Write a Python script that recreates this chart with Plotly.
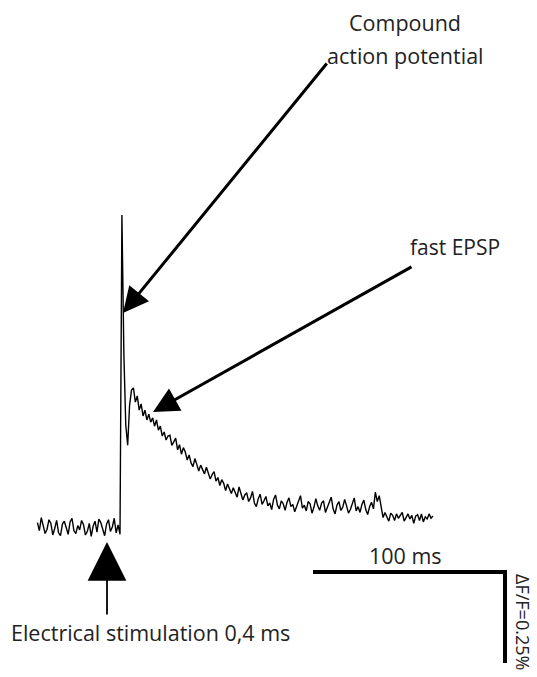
import plotly.graph_objects as go

# Fluorescence trace (ΔF/F, %) sampled every 1 ms, starting at t = -43 ms (stimulus at t = 0)
t_start_ms = -43
dff_percent = [
    0.012, -0.010, 0.026, 0.004, -0.018, -0.006, 0.020, 0.010, -0.022, -0.004,
    0.018, -0.016, -0.024, 0.008, 0.016, -0.002, -0.020, 0.014, 0.024, -0.010,
    -0.018, 0.004, -0.008, 0.018, 0.006, -0.022, -0.012, 0.010, -0.026, 0.002,
    0.016, -0.014, 0.022, 0.012, -0.004, -0.024, 0.008, 0.020, -0.012, 0.000,
    0.024, -0.016, 0.006,
    -0.020, 0.857, 0.480, 0.280, 0.225, 0.335, 0.376, 0.382, 0.343, 0.360,
    0.321, 0.338, 0.305, 0.321, 0.294, 0.310, 0.288, 0.300, 0.277, 0.294,
    0.266, 0.277, 0.250, 0.261, 0.239, 0.250,
    0.252, 0.224, 0.236, 0.244, 0.212, 0.226, 0.200, 0.218, 0.206, 0.184,
    0.198, 0.176, 0.166, 0.188, 0.172, 0.154, 0.170, 0.160, 0.146, 0.164,
    0.150, 0.132, 0.144, 0.152, 0.126, 0.136, 0.114, 0.130, 0.120, 0.100,
    0.118, 0.104, 0.092, 0.108, 0.096, 0.082, 0.110, 0.092, 0.074, 0.088,
    0.094, 0.070, 0.080, 0.098, 0.066, 0.056, 0.078, 0.090, 0.062, 0.072,
    0.084, 0.058, 0.066, 0.048, 0.076, 0.088, 0.060, 0.050, 0.072, 0.064,
    0.046, 0.068, 0.080, 0.056, 0.062, 0.042, 0.058, 0.074, 0.086, 0.052,
    0.060, 0.044, 0.070, 0.064, 0.038, 0.054, 0.078, 0.058, 0.046, 0.066,
    0.072, 0.040, 0.052, 0.068, 0.082, 0.050, 0.036, 0.060, 0.070, 0.046,
    0.054, 0.076, 0.058, 0.038, 0.048, 0.066, 0.080, 0.044, 0.056, 0.040,
    0.062, 0.074, 0.048, 0.034, 0.056, 0.068, 0.050, 0.096, 0.070, 0.086,
    0.052, 0.026, 0.040, 0.030, 0.016, 0.038, 0.032, 0.018, 0.036, 0.024,
    0.034, 0.040, 0.016, 0.028, 0.036, 0.022, 0.032, 0.010, 0.030, 0.034,
    0.018, 0.036, 0.014, 0.028, 0.022, 0.036, 0.024, 0.030,
]
time_ms = [t_start_ms + i for i in range(len(dff_percent))]

scale_time_ms = 100
scale_dff = 0.25

# pixel -> data helpers for layout placement
def X(px):
    return (px - 120) / 1.92

def Y(py):
    return (527 - py) / 364.0

W, H = 537, 677
fig = go.Figure()
fig.add_trace(go.Scatter(x=time_ms, y=dff_percent, mode="lines",
                         line=dict(color="#000", width=1.4), hoverinfo="skip",
                         showlegend=False))

font = dict(family="Open Sans", size=21, color="#222")

# scale bar
x0 = X(313); y0 = Y(572)
fig.add_shape(type="path",
              path=f"M {x0} {y0} L {x0 + scale_time_ms} {y0} L {x0 + scale_time_ms} {y0 - scale_dff}",
              line=dict(color="#000", width=4), xref="x", yref="y")

def arrow(tail, tip, w, s):
    fig.add_annotation(x=X(tip[0]), y=Y(tip[1]), ax=X(tail[0]), ay=Y(tail[1]),
                       xref="x", yref="y", axref="x", ayref="y", text="",
                       showarrow=True, arrowhead=2, arrowwidth=w, arrowsize=s,
                       arrowcolor="#000", standoff=0)

arrow((328, 62), (123, 313), 3, 1.7)
arrow((413, 266), (153, 412), 3, 1.7)
arrow((107, 616), (107, 542), 1.8, 4.3)

def label(txt, px, py, angle=0, size=21.5):
    f = dict(font); f["size"] = size
    fig.add_annotation(x=X(px), y=Y(py), text=txt, showarrow=False, xref="x", yref="y",
                       font=f, textangle=angle, xanchor="center", yanchor="middle",
                       borderpad=0)

label("Compound", 405, 22)
label("action potential", 405, 55)
label("fast EPSP", 455, 247, size=21)
label("100 ms", 405, 555)
label("Electrical stimulation 0,4 ms", 150, 632)
label("ΔF/F=0.25%", 523, 622, angle=90, size=18)

fig.update_layout(width=W, height=H, margin=dict(l=0, r=0, t=0, b=0),
                  paper_bgcolor="white", plot_bgcolor="white",
                  xaxis=dict(range=[X(0), X(W)], visible=False, fixedrange=True),
                  yaxis=dict(range=[Y(H), Y(0)], visible=False, fixedrange=True))
fig.write_html("out.html", post_script="document.body.style.margin='0';",
               config={"displayModeBar": False, "staticPlot": True})
